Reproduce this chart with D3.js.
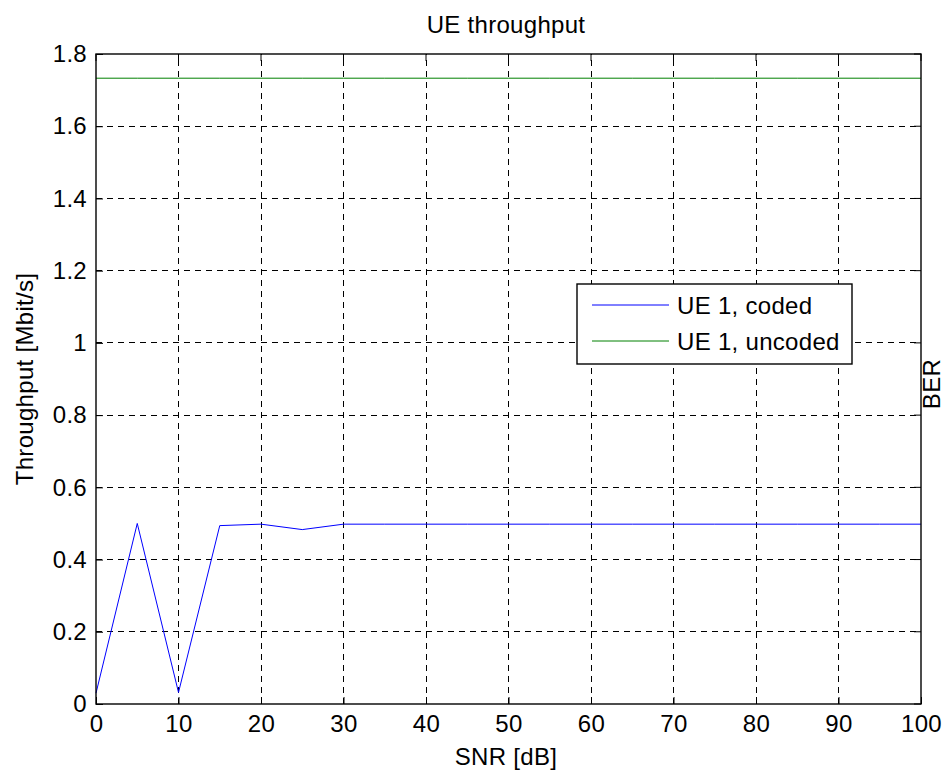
<!DOCTYPE html>
<html>
<head>
<meta charset="utf-8">
<script src="https://cdn.jsdelivr.net/npm/d3@7"></script>
<style>
  body { margin: 0; background: #fff; }
  svg text { font-family: "Liberation Sans", Arial, sans-serif; fill: #000; letter-spacing: 0.3px; }
</style>
</head>
<body>
<svg id="chart" width="949" height="774"></svg>
<script>
// SNR values (dB)
const snr = [0, 5, 10, 15, 20, 25, 30, 35, 40, 45, 50, 55, 60, 65, 70, 75, 80, 85, 90, 95, 100];
// throughput, Mbit/s
const coded = [0.03, 0.50, 0.032, 0.494, 0.498, 0.483, 0.498, 0.498, 0.498, 0.498, 0.498, 0.498, 0.498, 0.498, 0.498, 0.498, 0.498, 0.498, 0.498, 0.498, 0.498];
const uncoded = [1.733, 1.733, 1.733, 1.733, 1.733, 1.733, 1.733, 1.733, 1.733, 1.733, 1.733, 1.733, 1.733, 1.733, 1.733, 1.733, 1.733, 1.733, 1.733, 1.733, 1.733];
const xTicks = [0, 10, 20, 30, 40, 50, 60, 70, 80, 90, 100];
const yTicks = [0, 0.2, 0.4, 0.6, 0.8, 1, 1.2, 1.4, 1.6, 1.8];
const seriesNames = ["UE 1, coded", "UE 1, uncoded"];
const seriesColors = ["#0000ff", "#008000"];

const margin = {left: 96, top: 54, right: 28, bottom: 70};
const W = 949, H = 774;
const FS = "24px";
const svg = d3.select("#chart");

const x = d3.scaleLinear().domain([0, 100]).range([margin.left, W - margin.right]);
const y = d3.scaleLinear().domain([0, 1.8]).range([H - margin.bottom, margin.top]);

// grid
const grid = svg.append("g");
grid.selectAll(".vg").data(xTicks.slice(1, -1)).join("line")
  .attr("x1", d => x(d)).attr("x2", d => x(d))
  .attr("y1", y(0)).attr("y2", y(1.8))
  .attr("stroke", "#000").attr("stroke-dasharray", "6,5").attr("stroke-width", 1)
  .attr("shape-rendering", "crispEdges");
grid.selectAll(".hg").data(yTicks.slice(1, -1)).join("line")
  .attr("x1", x(0)).attr("x2", x(100))
  .attr("y1", d => y(d)).attr("y2", d => y(d))
  .attr("stroke", "#000").attr("stroke-dasharray", "6,5").attr("stroke-width", 1)
  .attr("shape-rendering", "crispEdges");

// data lines
const line = d3.line().x((d, i) => x(snr[i])).y(d => y(d));
[coded, uncoded].forEach((s, k) => {
  svg.append("path").datum(s)
    .attr("d", line)
    .attr("fill", "none")
    .attr("stroke", seriesColors[k])
    .attr("stroke-width", 1);
});

// axes (ticks inward)
const xAxis = svg.append("g").attr("transform", `translate(0,${y(0)})`)
  .call(d3.axisBottom(x).tickValues(xTicks).tickSizeInner(-7).tickSizeOuter(0).tickPadding(11).tickFormat(d3.format("d")));
const yAxis = svg.append("g").attr("transform", `translate(${x(0)},0)`)
  .call(d3.axisLeft(y).tickValues(yTicks).tickSizeInner(-7).tickSizeOuter(0).tickPadding(9).tickFormat(d => d === 0 || d === 1 ? d3.format("d")(d) : d3.format(".1f")(d)));
[xAxis, yAxis].forEach(a => {
  a.selectAll("text").style("font-size", FS);
  a.selectAll("line").attr("stroke", "#000");
  a.select(".domain").remove();
});
svg.append("g").selectAll(".rt").data(yTicks).join("line")
  .attr("x1", x(100)).attr("x2", x(100) - 7)
  .attr("y1", d => y(d)).attr("y2", d => y(d)).attr("stroke", "#000");
svg.append("g").selectAll(".tt").data(xTicks).join("line")
  .attr("x1", d => x(d)).attr("x2", d => x(d))
  .attr("y1", y(1.8)).attr("y2", y(1.8) + 7).attr("stroke", "#000");

// box
svg.append("rect")
  .attr("x", x(0)).attr("y", y(1.8))
  .attr("width", x(100) - x(0)).attr("height", y(0) - y(1.8))
  .attr("fill", "none").attr("stroke", "#000").attr("stroke-width", 1.4);

// labels
svg.append("text").attr("x", 506).attr("y", 33)
  .attr("text-anchor", "middle").style("font-size", FS).text("UE throughput");
svg.append("text").attr("x", 506).attr("y", 765)
  .attr("text-anchor", "middle").style("font-size", FS).text("SNR [dB]");
svg.append("text")
  .attr("transform", `translate(33,${(y(0) + y(1.8)) / 2}) rotate(-90)`)
  .attr("text-anchor", "middle").style("font-size", FS).text("Throughput [Mbit/s]");
svg.append("text")
  .attr("transform", `translate(940,384) rotate(-90)`)
  .attr("text-anchor", "middle").style("font-size", FS).text("BER");

// legend
const lg = svg.append("g").attr("transform", "translate(577,284)");
lg.append("rect").attr("width", 275).attr("height", 80)
  .attr("fill", "#fff").attr("stroke", "#000").attr("stroke-width", 1.4);
seriesNames.forEach((n, i) => {
  const yy = 21 + i * 36;
  lg.append("line").attr("x1", 15).attr("x2", 92).attr("y1", yy).attr("y2", yy)
    .attr("stroke", seriesColors[i]).attr("stroke-width", 1);
  lg.append("text").attr("x", 100).attr("y", yy + 9).style("font-size", FS).text(n);
});
</script>
</body>
</html>
